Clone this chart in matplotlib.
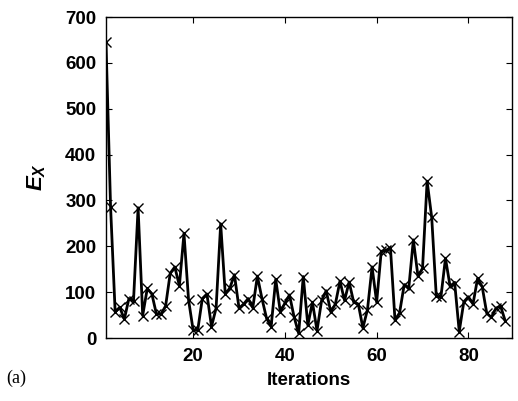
import matplotlib
matplotlib.use("Agg")
import matplotlib.pyplot as plt

# ---- data --------------------------------------------------------------
iterations = list(range(1, 89))
ex_values = [
    646, 286, 57, 67, 41, 86, 81, 284, 49, 108,
    96, 52, 52, 70, 141, 155, 114, 228, 83, 17,
    17, 86, 96, 25, 65, 249, 96, 109, 138, 65,
    74, 86, 66, 135, 86, 43, 25, 128, 57, 76,
    94, 46, 10, 134, 28, 78, 16, 82, 103, 57,
    74, 124, 82, 122, 78, 74, 22, 62, 155, 78,
    189, 191, 197, 39, 55, 116, 109, 214, 135, 152,
    342, 263, 91, 89, 174, 113, 121, 14, 79, 90,
    74, 130, 112, 54, 45, 65, 70, 38,
]
x_ticks = [20, 40, 60, 80]
y_ticks = [0, 100, 200, 300, 400, 500, 600, 700]

plt.rcParams["font.family"] = ["Liberation Sans", "DejaVu Sans"]
plt.rcParams["mathtext.fontset"] = "custom"
plt.rcParams["mathtext.it"] = "Liberation Sans:italic:bold"
plt.rcParams["mathtext.rm"] = "Liberation Sans:bold"

fig = plt.figure(figsize=(5.18, 4.01), dpi=100)
ax = fig.add_axes([0.2046, 0.1571, 0.7838, 0.8005])

ax.plot(iterations, ex_values, color="black", linewidth=2.0,
        marker="x", markersize=6.5, markeredgewidth=1.0)

ax.set_xlim(1, 89.5)
ax.set_ylim(0, 700)
ax.set_xticks(x_ticks)
ax.set_yticks(y_ticks)
ax.tick_params(direction="in", top=True, right=True, length=4, width=0.8,
               labelsize=13.5, pad=7)
for lbl in ax.get_xticklabels() + ax.get_yticklabels():
    lbl.set_fontweight("bold")
for s in ax.spines.values():
    s.set_linewidth(1.0)

ax.set_xlabel("Iterations", fontsize=13.5, fontweight="bold", labelpad=5)
ax.set_ylabel(r"$E_X$", fontsize=16, labelpad=12)

fig.text(0.012, 0.057, "(a)", family="Liberation Serif", fontsize=13,
         va="center")

fig.savefig("out.png", dpi=100)
